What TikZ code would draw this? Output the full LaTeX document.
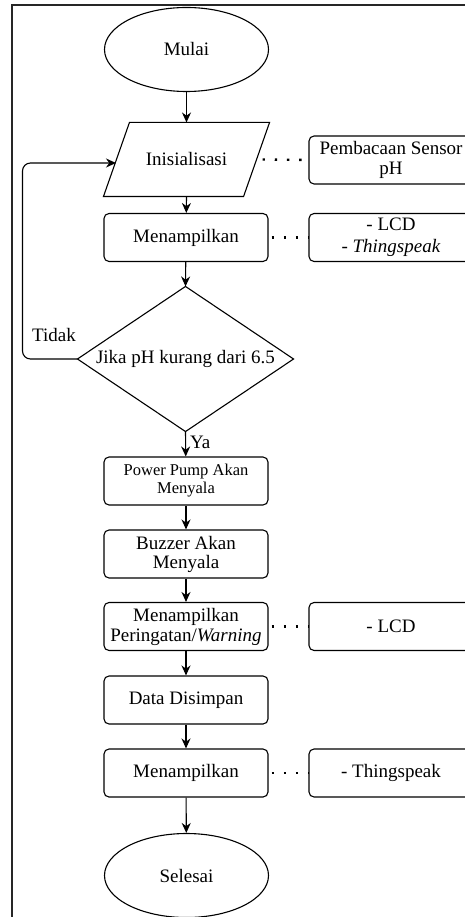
\documentclass[tikz,border=0pt]{standalone}
\usepackage{fontspec}
\setmainfont{Liberation Serif}
\usetikzlibrary{arrows.meta,shapes.geometric}
\begin{document}
\begin{tikzpicture}[x=1pt,y=-1pt,
  font=\fontsize{19}{21}\selectfont,
  line width=1.1pt,
  proc/.style={draw,rounded corners=5pt,minimum width=164pt,minimum height=48pt,inner sep=2pt,align=center},
  term/.style={draw,ellipse,minimum width=164pt,minimum height=84pt,inner sep=0pt},
  arr/.style={-{Stealth[length=10pt,width=9pt]}},
  dots/.style={dash pattern=on 2.4pt off 9.8pt,line width=2.4pt}
]
\useasboundingbox (0,0) rectangle (465,917);
\clip (0,0) rectangle (465,917);
\draw[line width=1.8pt,draw=black!85] (12,5) rectangle (490,940);

\node[term] (mulai) at (186.5,49.5) {Mulai};
\node[minimum width=165pt,minimum height=73pt,inner sep=0pt] (init) at (186.5,159.5) {Inisialisasi};
\draw ([xshift=26pt]init.north west) -- (init.north east) -- ([xshift=-26pt]init.south east) -- (init.south west) -- cycle;
\coordinate (initin) at (116,163);
\node[proc] (tampil1) at (186,237.5) {Menampilkan};
\node[minimum width=215pt,minimum height=144pt,inner sep=0pt] (dec) at (185.5,359) {Jika pH kurang dari 6.5};
\draw (dec.north) -- (dec.east) -- (dec.south) -- (dec.west) -- cycle;
\node[proc,font=\fontsize{16.5}{18}\selectfont] (pump) at (186,481) {Power Pump Akan\\Menyala};
\node[proc,align=center] (buzz) at (186,554) {Buzzer Akan\\[-2pt]Menyala};
\node[proc] (warn) at (186,626.5) {Menampilkan\\[-1pt]Peringatan/\textit{Warning}};
\node[proc] (data) at (186,700) {Data Disimpan};
\node[proc] (tampil2) at (186,773) {Menampilkan};
\node[term] (selesai) at (186.5,875.5) {Selesai};

\node[proc] (sensor) at (391,160) {Pembacaan Sensor\\[-1pt]pH};
\node[proc] (out1) at (391,237.5) {- LCD\\[1pt]- \textit{Thingspeak}};
\node[proc] (out2) at (391,626.5) {- LCD};
\node[proc] (out3) at (391,773) {- Thingspeak};

\draw[arr] (mulai) -- (init.north);
\draw[arr] (init.south) -- (tampil1);
\draw[arr] (tampil1) -- (dec.north);
\draw[arr] (dec.south) -- (pump) node[pos=0.45,right=4pt,inner sep=0pt] (ya) {Ya};
\draw[arr] (pump) -- (buzz);
\draw[arr] (buzz) -- (warn);
\draw[arr] (warn) -- (data);
\draw[arr] (data) -- (tampil2);
\draw[arr] (tampil2) -- (selesai);
\draw[arr,rounded corners=8pt] (dec.west) -| (22.5,163) -- (initin);
\node (tidak) at (54,335) {Tidak};

\draw[dots] ([xshift=-10pt]init.east) ++(3pt,0) -- (sensor.west);
\draw[dots] (tampil1.east) ++(3pt,0) -- (out1.west);
\draw[dots] (warn.east) ++(3pt,0) -- (out2.west);
\draw[dots] (tampil2.east) ++(3pt,0) -- (out3.west);
\end{tikzpicture}
\end{document}
